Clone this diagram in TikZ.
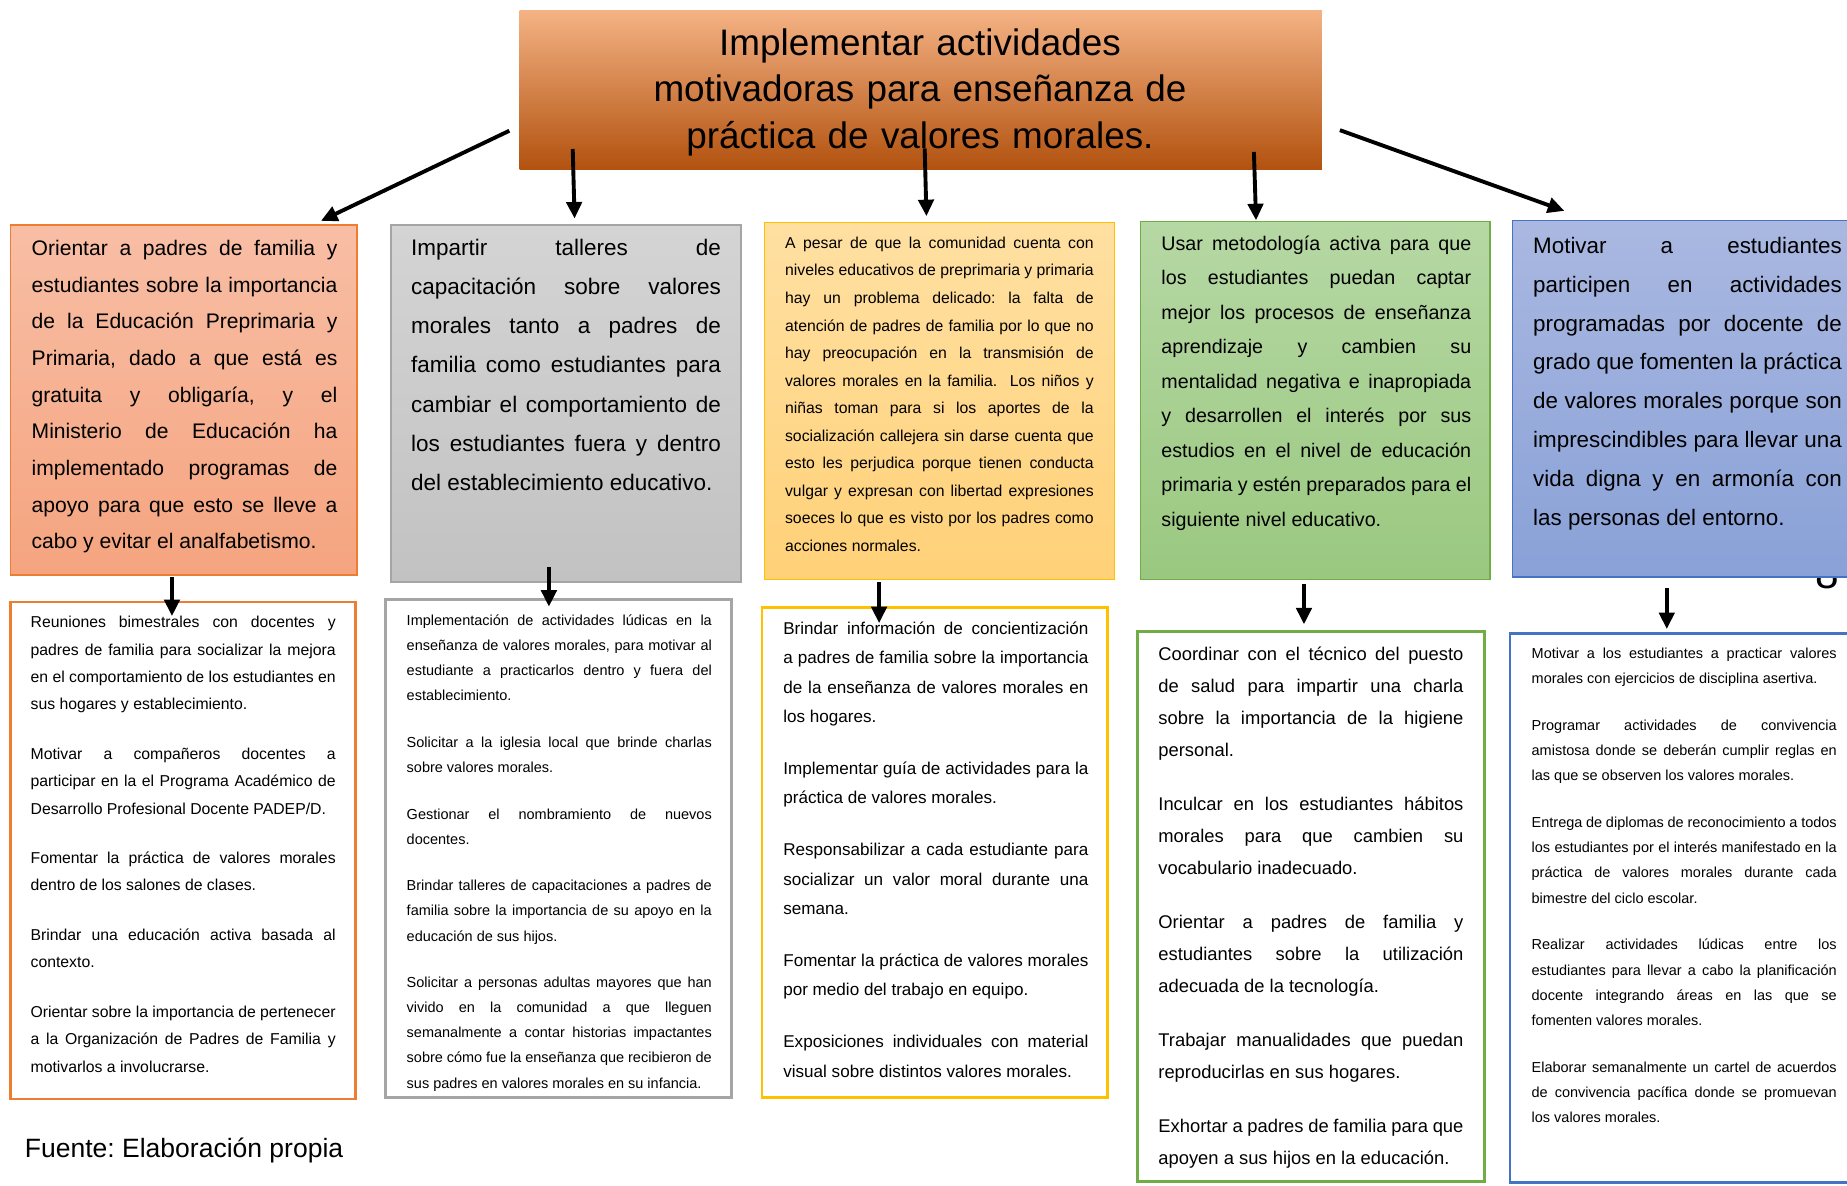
\documentclass[tikz,border=0pt]{standalone}
\usepackage{fontspec}
\setmainfont{Liberation Sans}[WordSpace={1,1,1.5}]
\usetikzlibrary{arrows.meta}
\tolerance=10000 \hyphenpenalty=10000 \exhyphenpenalty=10000
\frenchspacing
\definecolor{tTop}{RGB}{244,178,132}
\definecolor{tMid}{RGB}{237,126,50}
\definecolor{tBot}{RGB}{178,82,15}
\definecolor{oTop}{RGB}{248,190,165}
\definecolor{oBot}{RGB}{245,164,127}
\definecolor{oLine}{RGB}{237,125,49}
\definecolor{gTop}{RGB}{212,212,212}
\definecolor{gBot}{RGB}{194,194,194}
\definecolor{gLine}{RGB}{165,165,165}
\definecolor{yTop}{RGB}{255,224,162}
\definecolor{yBot}{RGB}{255,209,120}
\definecolor{yLine}{RGB}{255,192,0}
\definecolor{vTop}{RGB}{182,216,164}
\definecolor{vBot}{RGB}{154,200,128}
\definecolor{vLine}{RGB}{112,173,71}
\definecolor{bTop}{RGB}{170,184,225}
\definecolor{bBot}{RGB}{137,161,215}
\definecolor{bLine}{RGB}{68,114,196}
\newcommand{\mygap}[1]{\par\vspace{#1pt}}
\begin{document}
\begin{tikzpicture}[x=1pt,y=-1pt,
  box/.style={draw, line width=1.2pt, inner sep=0pt, outer sep=0pt, anchor=north west},
  lowbox/.style={draw, line width=2.3pt, fill=white, inner sep=0pt, outer sep=0pt, anchor=north west},
  txt/.style={anchor=base west, inner sep=0pt, outer sep=0pt, align=justify, text width=#1},
  arr/.style={line width=3.3pt, -{Triangle[width=13pt,length=14pt]}}]
\useasboundingbox (0,0) rectangle (1568,1006);
\clip (0,0) rectangle (1568,1006);
\fill[white] (0,0) rectangle (1568,1006);

% hidden page number behind the blue box
\node[anchor=base, inner sep=0pt, font=\fontsize{36pt}{40pt}\selectfont] (pnum) at (1551,500) {8};

% title
\node[anchor=north west, minimum width=681pt, minimum height=134.5pt, inner sep=0pt,
      top color=tTop, middle color=tMid, bottom color=tBot] (title) at (441,9) {};
\node[anchor=base, inner sep=0pt, text width=640pt, align=center,
      font=\fontsize{31.3pt}{39.5pt}\selectfont] (ttext) at (781,47)
  {Implementar actividades\\ motivadoras para enseñanza de\\ práctica de valores morales.};

% top row
\node[box, draw=oLine, top color=oTop, bottom color=oBot, minimum width=294pt, minimum height=297pt] (b1) at (9,191) {};
\node[box, draw=gLine, top color=gTop, bottom color=gBot, minimum width=297pt, minimum height=303pt] (b2) at (332,191) {};
\node[box, draw=yLine, top color=yTop, bottom color=yBot, minimum width=297pt, minimum height=303pt] (b3) at (649,189) {};
\node[box, draw=vLine, top color=vTop, bottom color=vBot, minimum width=297pt, minimum height=304pt] (b4) at (968,188) {};
\node[box, draw=bLine, top color=bTop, bottom color=bBot, minimum width=300pt, minimum height=303pt] (b5) at (1284,187) {};

\node[txt=259.5pt, font=\fontsize{17.9pt}{31.1pt}\selectfont] (t1) at (26.9,217) {%
Orientar a padres de familia y\linebreak
estudiantes sobre la importancia\linebreak
de la Educación Preprimaria y\linebreak
Primaria, dado a que está es\linebreak
gratuita y obligaría, y el\linebreak
Ministerio de Educación ha\linebreak
implementado programas de\linebreak
apoyo para que esto se lleve a\linebreak
cabo y evitar el analfabetismo.};

\node[txt=263pt, font=\fontsize{19.1pt}{33.2pt}\selectfont] (t2) at (349,217) {%
Impartir talleres de\linebreak
capacitación sobre valores\linebreak
morales tanto a padres de\linebreak
familia como estudiantes para\linebreak
cambiar el comportamiento de\linebreak
los estudiantes fuera y dentro\linebreak
del establecimiento educativo.};

\node[txt=262pt, font=\fontsize{13.4pt}{23.4pt}\selectfont] (t3) at (666.5,210.8) {%
A pesar de que la comunidad cuenta con\linebreak
niveles educativos de preprimaria y primaria\linebreak
hay un problema delicado: la falta de\linebreak
atención de padres de familia por lo que no\linebreak
hay preocupación en la transmisión de\linebreak
valores morales en la familia.\ \ Los niños y\linebreak
niñas toman para si los aportes de la\linebreak
socialización callejera sin darse cuenta que\linebreak
esto les perjudica porque tienen conducta\linebreak
vulgar y expresan con libertad expresiones\linebreak
soeces lo que es visto por los padres como\linebreak
acciones normales.};

\node[txt=263pt, font=\fontsize{16.7pt}{29.3pt}\selectfont] (t4) at (986,212.5) {%
Usar metodología activa para que\linebreak
los estudiantes puedan captar\linebreak
mejor los procesos de enseñanza\linebreak
aprendizaje y cambien su\linebreak
mentalidad negativa e inapropiada\linebreak
y desarrollen el interés por sus\linebreak
estudios en el nivel de educación\linebreak
primaria y estén preparados para el\linebreak
siguiente nivel educativo.};

\node[txt=262pt, font=\fontsize{19pt}{33pt}\selectfont] (t5) at (1301.6,215) {%
Motivar a estudiantes\linebreak
participen en actividades\linebreak
programadas por docente de\linebreak
grado que fomenten la práctica\linebreak
de valores morales porque son\linebreak
imprescindibles para llevar una\linebreak
vida digna y en armonía con\linebreak
las personas del entorno.};

% bottom row
\node[lowbox, draw=oLine, minimum width=293pt, minimum height=422pt] (c1) at (9,511) {};
\node[lowbox, draw=gLine, minimum width=294pt, minimum height=423pt] (c2) at (327,509) {};
\node[lowbox, draw=yLine, minimum width=293pt, minimum height=416pt] (c3) at (647,516) {};
\node[lowbox, draw=vLine, minimum width=294.5pt, minimum height=467pt] (c4) at (965.5,536) {};
\node[lowbox, draw=bLine, minimum width=300pt, minimum height=466pt] (c5) at (1282,538) {};

\node[txt=259pt, font=\fontsize{13.4pt}{23.3pt}\selectfont] (u1) at (26,532.8) {%
Reuniones bimestrales con docentes y\linebreak
padres de familia para socializar la mejora\linebreak
en el comportamiento de los estudiantes en\linebreak
sus hogares y establecimiento.\mygap{18.6}
Motivar a compañeros docentes a\linebreak
participar en la el Programa Académico de\linebreak
Desarrollo Profesional Docente PADEP/D.\mygap{18.6}
Fomentar la práctica de valores morales\linebreak
dentro de los salones de clases.\mygap{18.6}
Brindar una educación activa basada al\linebreak
contexto.\mygap{18.6}
Orientar sobre la importancia de pertenecer\linebreak
a la Organización de Padres de Familia y\linebreak
motivarlos a involucrarse.};

\begin{scope}
\clip (327,509) rectangle (621,926);
\node[txt=259pt, font=\fontsize{12.3pt}{21.3pt}\selectfont] (u2) at (345.3,531) {%
Implementación de actividades lúdicas en la\linebreak
enseñanza de valores morales, para motivar al\linebreak
estudiante a practicarlos dentro y fuera del\linebreak
establecimiento.\mygap{18.3}
Solicitar a la iglesia local que brinde charlas\linebreak
sobre valores morales.\mygap{18.3}
Gestionar el nombramiento de nuevos\linebreak
docentes.\mygap{18.3}
Brindar talleres de capacitaciones a padres de\linebreak
familia sobre la importancia de su apoyo en la\linebreak
educación de sus hijos.\mygap{18.3}
Solicitar a personas adultas mayores que han\linebreak
vivido en la comunidad a que lleguen\linebreak
semanalmente a contar historias impactantes\linebreak
sobre cómo fue la enseñanza que recibieron de\linebreak
sus padres en valores morales en su infancia.};
\end{scope}

\node[txt=259pt, font=\fontsize{14.5pt}{25pt}\selectfont] (u3) at (665,538.5) {%
Brindar información de concientización\linebreak
a padres de familia sobre la importancia\linebreak
de la enseñanza de valores morales en\linebreak
los hogares.\mygap{19}
Implementar guía de actividades para la\linebreak
práctica de valores morales.\mygap{19}
Responsabilizar a cada estudiante para\linebreak
socializar un valor moral durante una\linebreak
semana.\mygap{19}
Fomentar la práctica de valores morales\linebreak
por medio del trabajo en equipo.\mygap{19}
Exposiciones individuales con material\linebreak
visual sobre distintos valores morales.};

\node[txt=259pt, font=\fontsize{15.6pt}{27.2pt}\selectfont] (u4) at (983.4,561) {%
Coordinar con el técnico del puesto\linebreak
de salud para impartir una charla\linebreak
sobre la importancia de la higiene\linebreak
personal.\mygap{18.4}
Inculcar en los estudiantes hábitos\linebreak
morales para que cambien su\linebreak
vocabulario inadecuado.\mygap{18.4}
Orientar a padres de familia y\linebreak
estudiantes sobre la utilización\linebreak
adecuada de la tecnología.\mygap{18.4}
Trabajar manualidades que puedan\linebreak
reproducirlas en sus hogares.\mygap{18.4}
Exhortar a padres de familia para que\linebreak
apoyen a sus hijos en la educación.};

\node[txt=259pt, font=\fontsize{12.3pt}{21.4pt}\selectfont] (u5) at (1300.3,559) {%
Motivar a los estudiantes a practicar valores\linebreak
morales con ejercicios de disciplina asertiva.\mygap{18.25}
Programar actividades de convivencia\linebreak
amistosa donde se deberán cumplir reglas en\linebreak
las que se observen los valores morales.\mygap{18.25}
Entrega de diplomas de reconocimiento a todos\linebreak
los estudiantes por el interés manifestado en la\linebreak
práctica de valores morales durante cada\linebreak
bimestre del ciclo escolar.\mygap{18.25}
Realizar actividades lúdicas entre los\linebreak
estudiantes para llevar a cabo la planificación\linebreak
docente integrando áreas en las que se\linebreak
fomenten valores morales.\mygap{18.25}
Elaborar semanalmente un cartel de acuerdos\linebreak
de convivencia pacífica donde se promuevan\linebreak
los valores morales.};

\node[anchor=base west, inner sep=0pt, font=\fontsize{22.5pt}{27pt}\selectfont] (src) at (21,983) {Fuente: Elaboración propia};

% arrow end points
\coordinate (a1s) at (432.4,111);   \coordinate (a1e) at (272.5,187.5);
\coordinate (a2s) at (486.2,126.5); \coordinate (a2e) at (487.8,185.5);
\coordinate (a3s) at (785,126);     \coordinate (a3e) at (786.5,183.5);
\coordinate (a4s) at (1064.5,129);  \coordinate (a4e) at (1066.3,187);
\coordinate (a5s) at (1137.5,110.5);\coordinate (a5e) at (1328,179);
\coordinate (d1s) at (146,490);     \coordinate (d1e) at (146,523);
\coordinate (d2s) at (466,481);     \coordinate (d2e) at (466,515);
\coordinate (d3s) at (746.3,494);   \coordinate (d3e) at (746.3,529);
\coordinate (d4s) at (1107,495.5);  \coordinate (d4e) at (1107,530);
\coordinate (d5s) at (1415,499);    \coordinate (d5e) at (1415,534);

\draw[arr] (a1s) -- (a1e);
\draw[arr] (a2s) -- (a2e);
\draw[arr] (a3s) -- (a3e);
\draw[arr] (a4s) -- (a4e);
\draw[arr] (a5s) -- (a5e);
\draw[arr] (d1s) -- (d1e);
\draw[arr] (d2s) -- (d2e);
\draw[arr] (d3s) -- (d3e);
\draw[arr] (d4s) -- (d4e);
\draw[arr] (d5s) -- (d5e);
\end{tikzpicture}
\end{document}
